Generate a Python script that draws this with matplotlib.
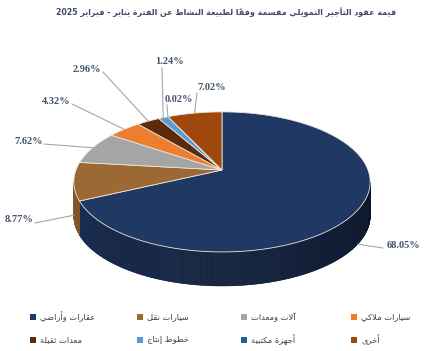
import numpy as np
import matplotlib.pyplot as plt
from matplotlib.patches import Polygon
from matplotlib.colors import to_rgb

# البيانات
labels = ['عقارات وأراضي', 'سيارات نقل', 'آلات ومعدات', 'سيارات ملاكي',
          'معدات ثقيلة', 'خطوط إنتاج', 'أجهزة مكتبية', 'أخرى']
shares = [68.05, 8.77, 7.62, 4.32, 2.96, 1.24, 0.02, 7.02]
colors = ['#203864', '#9C6934', '#A5A5A5', '#ED7D31',
          '#5B2C0B', '#5B9BD5', '#255E91', '#9E480E']
title = 'قيمة عقود التأجير التمويلي مقسمة وفقاً لطبيعة النشاط عن الفترة يناير - فبراير 2025'

# تشكيل الحروف العربية (matplotlib لا يربط الحروف ولا يكتب من اليمين لليسار)
FORMS = {
    'آ': (0xFE81, 2), 'أ': (0xFE83, 2), 'ؤ': (0xFE85, 2), 'إ': (0xFE87, 2),
    'ئ': (0xFE89, 4), 'ا': (0xFE8D, 2), 'ب': (0xFE8F, 4), 'ة': (0xFE93, 2),
    'ت': (0xFE95, 4), 'ث': (0xFE99, 4), 'ج': (0xFE9D, 4), 'ح': (0xFEA1, 4),
    'خ': (0xFEA5, 4), 'د': (0xFEA9, 2), 'ذ': (0xFEAB, 2), 'ر': (0xFEAD, 2),
    'ز': (0xFEAF, 2), 'س': (0xFEB1, 4), 'ش': (0xFEB5, 4), 'ص': (0xFEB9, 4),
    'ض': (0xFEBD, 4), 'ط': (0xFEC1, 4), 'ظ': (0xFEC5, 4), 'ع': (0xFEC9, 4),
    'غ': (0xFECD, 4), 'ف': (0xFED1, 4), 'ق': (0xFED5, 4), 'ك': (0xFED9, 4),
    'ل': (0xFEDD, 4), 'م': (0xFEE1, 4), 'ن': (0xFEE5, 4), 'ه': (0xFEE9, 4),
    'و': (0xFEED, 2), 'ى': (0xFEEF, 2), 'ي': (0xFEF1, 4),
}
LAM_ALEF = {'آ': 0xFEF5, 'أ': 0xFEF7, 'إ': 0xFEF9, 'ا': 0xFEFB}
MARKS = set(chr(c) for c in range(0x064B, 0x0653))


def shape(text):
    chars = list(text)
    n = len(chars)

    def neighbour(i, step):
        j = i + step
        while 0 <= j < n and chars[j] in MARKS:
            j += step
        return (j, chars[j]) if 0 <= j < n else (None, None)

    clusters = []
    i = 0
    while i < n:
        c = chars[i]
        if c in MARKS and clusters:
            clusters[-1] += c
            i += 1
            continue
        if c not in FORMS:
            clusters.append(c)
            i += 1
            continue
        _, prev = neighbour(i, -1)
        jp = prev in FORMS and FORMS[prev][1] == 4
        j, nxt = neighbour(i, 1)
        if c == 'ل' and nxt in LAM_ALEF:
            clusters.append(chr(LAM_ALEF[nxt] + (1 if jp else 0)))
            i = j + 1
            continue
        jn = FORMS[c][1] == 4 and nxt in FORMS
        idx = 3 if (jp and jn) else 1 if jp else 2 if jn else 0
        clusters.append(chr(FORMS[c][0] + idx))
        i += 1
    clusters.reverse()
    # إعادة الأرقام إلى ترتيبها
    out, run = [], []
    for cl in clusters:
        if cl in '0123456789.%':
            run.append(cl)
        else:
            out.extend(reversed(run))
            run = []
            out.append(cl)
    out.extend(reversed(run))
    return ''.join(out)


def shade(color, f):
    r, g, b = to_rgb(color)
    return (r * f, g * f, b * f)


fig = plt.figure(figsize=(4.44, 3.51), dpi=100)
ax = fig.add_axes([0, 0, 1, 1])
ax.set_xlim(0, 444)
ax.set_ylim(351, 0)
ax.axis('off')

# شكل الفطيرة ثلاثية الأبعاد
cx, cy, rx, ry, k, depth = 222, 170, 146, 68, 0.17, 34


def proj(phi, drop=0.0):
    p = np.radians(phi)
    w = 1 + k * np.sin(p)
    return cx + rx * np.cos(p) / w, cy - ry * np.sin(p) / w + drop


total = sum(shares)
cum = np.concatenate([[0], np.cumsum(shares)])
starts = 90 - cum[:-1] / total * 360
ends = 90 - cum[1:] / total * 360

# الجدار الجانبي
for s, e, col in zip(starts, ends, colors):
    phis = np.linspace(e, s, max(int((s - e) * 4), 2))
    for a, b in zip(phis[:-1], phis[1:]):
        if np.sin(np.radians(a)) < -k + 0.002 and np.sin(np.radians(b)) < -k + 0.002:
            m = ((a + b) / 2) % 360
            f = 0.85 - 0.43 * (m - 190) / 160
            xa, ya = proj(a)
            xb, yb = proj(b)
            c2 = shade(col, f)
            ax.add_patch(Polygon([(xa, ya), (xb, yb), (xb, yb + depth), (xa, ya + depth)],
                                 closed=True, facecolor=c2, edgecolor=c2, lw=0.4))

# السطح العلوي
for s, e, col in zip(starts, ends, colors):
    phis = np.linspace(s, e, max(int((s - e) * 2), 2))
    xs, ys = proj(phis)
    pts = [(cx, cy)] + list(zip(xs, ys))
    ax.add_patch(Polygon(pts, closed=True, facecolor=col,
                         edgecolor='#EDE6DA', lw=0.6))

# النسب
label_pos = [(403, 245), (19, 220), (29, 142), (56, 101),
             (87, 70), (170, 61), (179, 100), (212, 88)]
line_end = [(383, 248), (35, 223), (44, 144), (72, 104),
            (103, 72), (162, 68), (167, 105), (197, 93)]
for s, e, v, (tx, ty), (lx, ly) in zip(starts, ends, shares, label_pos, line_end):
    m = (s + e) / 2
    px, py = proj(m)
    if np.sin(np.radians(m)) < 0:
        py += depth
    ax.plot([px, lx], [py, ly], color='#A6A6A6', lw=0.8)
    ax.text(tx, ty, '{:.2f}%'.format(v), ha='center', va='center',
            fontsize=7.5, fontweight='bold', family='Liberation Serif',
            color='#44546A')

# العنوان
ax.text(226, 12, shape(title), ha='center', va='center', fontsize=5.7,
        fontweight='bold', family='DejaVu Sans', color='#3F4A65')

# وسيلة الإيضاح
leg_x = [33, 140, 244, 354]
leg_y = [317, 340]
for i, (lab, col) in enumerate(zip(labels, colors)):
    x = leg_x[i % 4]
    y = leg_y[i // 4]
    ax.scatter([x], [y], marker='s', s=16, color=col, linewidths=0)
    ax.text(x + 7, y, shape(lab), ha='left', va='center', fontsize=6,
            family='DejaVu Sans', color='#404040')

fig.savefig('out.png', dpi=100)
